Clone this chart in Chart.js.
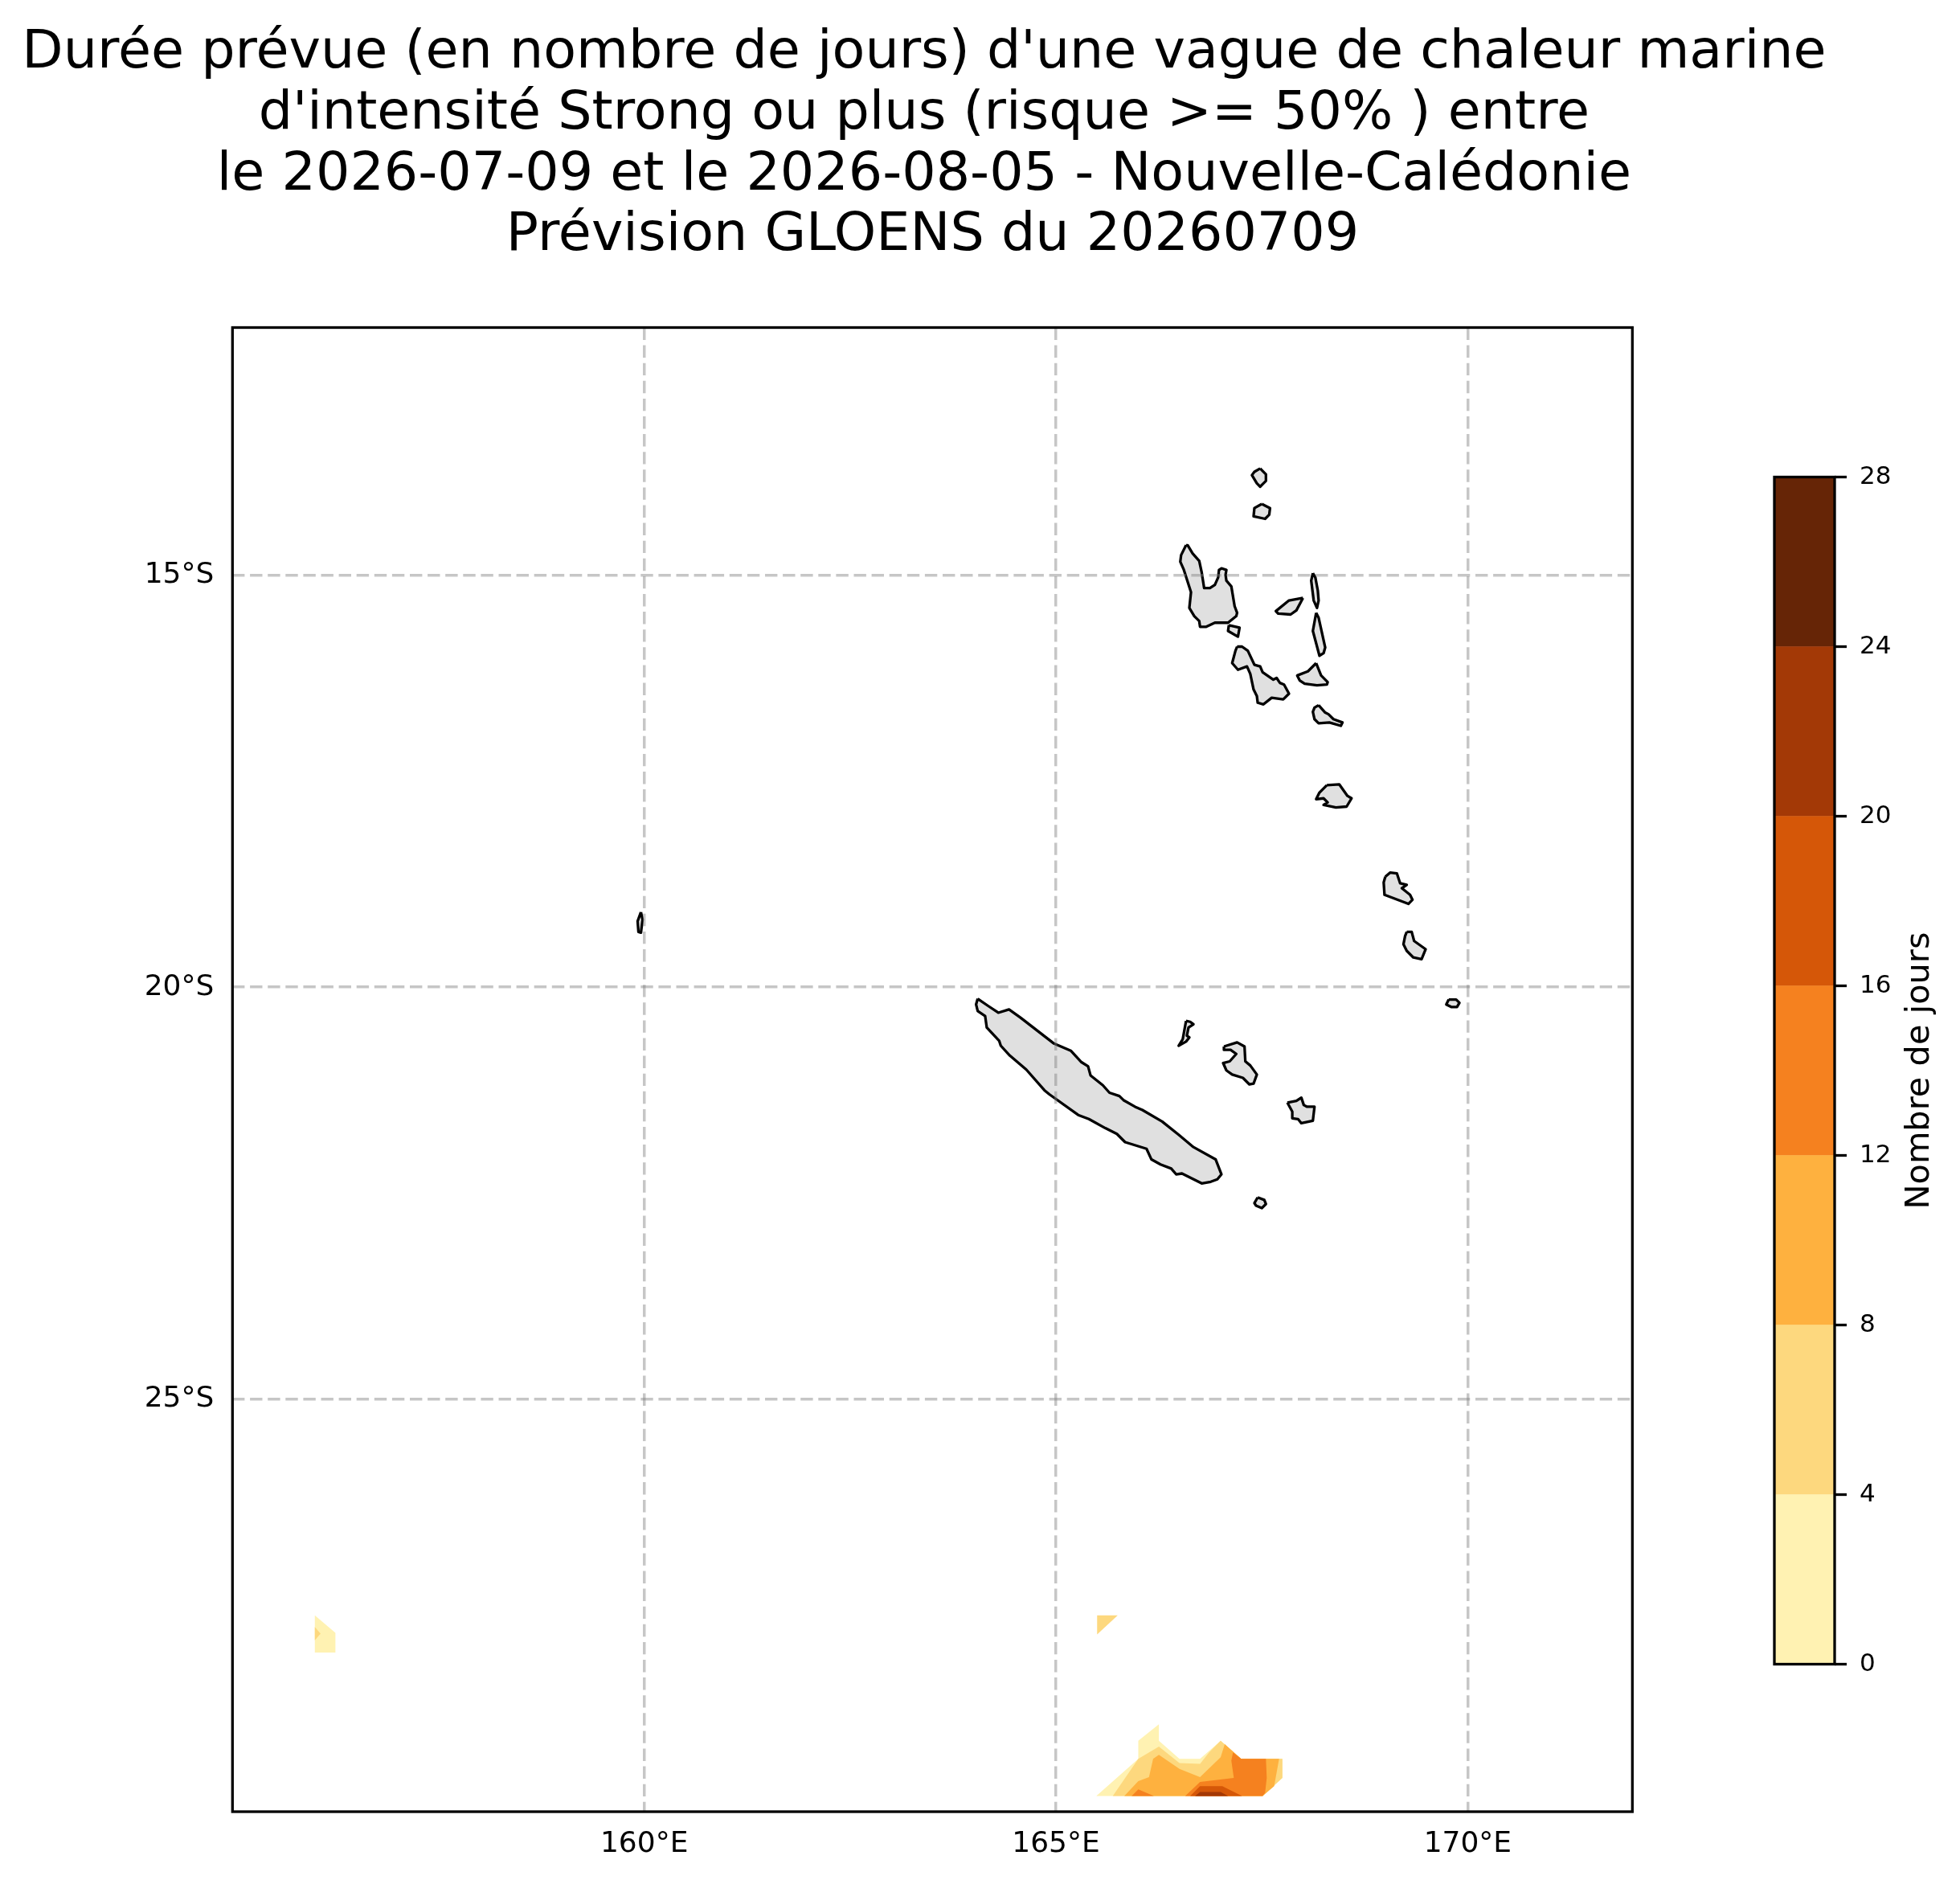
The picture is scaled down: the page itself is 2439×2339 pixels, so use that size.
<!DOCTYPE html>
<html lang="fr">
<head>
<meta charset="utf-8">
<title>Durée prévue d'une vague de chaleur marine</title>
<script src="https://cdn.jsdelivr.net/npm/chart.js@4/dist/chart.umd.min.js"></script>
<style>
  html, body { margin: 0; background: #fff; }
  #wrap { position: relative; width: 2439px; height: 2339px; overflow: hidden; }
  canvas { position: absolute; top: 0; }
  #map { left: 0; }
  #cbar { left: 2100px; }
</style>
</head>
<body>
<div id="wrap">
  <canvas id="map" width="2321" height="2339"></canvas>
  <canvas id="cbar" width="339" height="2339"></canvas>
</div>
<script>
/* titre et axes */
const TITLE_LINES = [
  "Durée prévue (en nombre de jours) d'une vague de chaleur marine ",
  "d'intensité Strong ou plus (risque >= 50% ) entre ",
  "le 2026-07-09 et le 2026-08-05 - Nouvelle-Calédonie ",
  "Prévision GLOENS du 20260709"
];
const LON_RANGE = [155, 172];
const LAT_RANGE = [-30, -12];
const LON_TICKS = [160, 165, 170];
const LAT_TICKS = [-25, -20, -15];
const CBAR_LABEL = "Nombre de jours";
const LEVELS = [0, 4, 8, 12, 16, 20, 24, 28];
const LEVEL_COLORS = ["#fff2b2", "#fdd87e", "#feb13f", "#f5811f", "#d55708", "#a33906", "#662506"];

/* isobandes (lon, lat), de la plus basse à la plus haute */
const band0a = [[156,-27.62],[156.25,-27.83],[156.25,-28.07],[156,-28.07]];
const band0b = [[165.49,-29.81],[166,-29.36],[166,-29.14],[166.25,-28.94],[166.25,-29.14],[166.5,-29.36],[166.75,-29.36],[167,-29.14],[167.25,-29.36],[167.75,-29.36],[167.75,-29.59],[167.51,-29.81]];
const band1a = [[156,-27.76],[156.07,-27.84],[156,-27.92]];
const band1b = [[165.5,-27.62],[165.75,-27.62],[165.5,-27.85]];
const band1c = [[165.69,-29.81],[166,-29.36],[166.25,-29.21],[166.5,-29.41],[166.75,-29.42],[166.86,-29.28],[167,-29.14],[167.25,-29.36],[167.75,-29.36],[167.75,-29.59],[167.51,-29.81]];
const band2 = [[165.83,-29.81],[166,-29.63],[166.13,-29.58],[166.18,-29.36],[166.25,-29.31],[166.5,-29.48],[166.75,-29.58],[167,-29.34],[167.05,-29.18],[167.25,-29.36],[167.71,-29.36],[167.65,-29.69],[167.51,-29.81]];
const band3a = [[165.92,-29.81],[166,-29.73],[166.19,-29.81]];
const band3b = [[166.57,-29.81],[166.75,-29.64],[167.16,-29.59],[167.13,-29.38],[167.15,-29.28],[167.25,-29.36],[167.55,-29.36],[167.56,-29.59],[167.54,-29.77],[167.51,-29.81]];
const band4 = [[166.63,-29.81],[166.75,-29.69],[167.02,-29.69],[167.26,-29.81]];
const band5 = [[166.69,-29.81],[166.75,-29.76],[167,-29.76],[167.09,-29.81]];

/* traits de côte (lon, lat) */
const hiu = [[167.48,-13.71],[167.55,-13.78],[167.55,-13.86],[167.52,-13.89],[167.48,-13.93],[167.44,-13.89],[167.38,-13.79],[167.41,-13.75]];
const vanuaLava = [[167.50,-14.14],[167.60,-14.19],[167.59,-14.27],[167.54,-14.32],[167.40,-14.29],[167.41,-14.19]];
const santo = [[166.58,-14.64],[166.60,-14.64],[166.66,-14.74],[166.74,-14.83],[166.77,-14.97],[166.80,-15.16],[166.87,-15.16],[166.93,-15.12],[166.97,-15.03],[166.98,-14.94],[167.01,-14.92],[167.07,-14.94],[167.06,-15.00],[167.07,-15.07],[167.13,-15.14],[167.17,-15.38],[167.20,-15.46],[167.19,-15.50],[167.09,-15.58],[166.93,-15.58],[166.82,-15.63],[166.75,-15.63],[166.74,-15.56],[166.68,-15.50],[166.62,-15.40],[166.64,-15.21],[166.55,-14.93],[166.51,-14.84],[166.52,-14.76]];
const malo = [[167.10,-15.61],[167.23,-15.64],[167.21,-15.75],[167.09,-15.68]];
const maewo = [[168.12,-14.98],[168.15,-15.03],[168.18,-15.19],[168.19,-15.31],[168.17,-15.40],[168.13,-15.31],[168.10,-15.07]];
const ambae = [[168.00,-15.28],[167.83,-15.31],[167.67,-15.44],[167.70,-15.47],[167.85,-15.48],[167.92,-15.43]];
const pentecote = [[168.16,-15.46],[168.19,-15.52],[168.27,-15.88],[168.25,-15.95],[168.20,-15.98],[168.12,-15.68]];
const malekula = [[167.20,-15.87],[167.26,-15.87],[167.33,-15.92],[167.41,-16.09],[167.48,-16.11],[167.51,-16.18],[167.64,-16.27],[167.68,-16.25],[167.72,-16.31],[167.77,-16.33],[167.83,-16.44],[167.76,-16.51],[167.62,-16.49],[167.52,-16.57],[167.45,-16.55],[167.44,-16.47],[167.40,-16.39],[167.36,-16.20],[167.32,-16.11],[167.21,-16.15],[167.14,-16.07],[167.18,-15.92]];
const ambrym = [[168.16,-16.07],[168.22,-16.22],[168.30,-16.30],[168.29,-16.33],[168.17,-16.34],[168.02,-16.32],[167.96,-16.28],[167.93,-16.22],[168.06,-16.17]];
const epi = [[168.19,-16.58],[168.27,-16.67],[168.31,-16.69],[168.37,-16.75],[168.48,-16.79],[168.46,-16.83],[168.32,-16.79],[168.19,-16.80],[168.14,-16.75],[168.12,-16.66],[168.14,-16.61]];
const efate = [[168.29,-17.55],[168.44,-17.54],[168.54,-17.68],[168.59,-17.71],[168.53,-17.81],[168.40,-17.82],[168.25,-17.79],[168.30,-17.76],[168.25,-17.71],[168.16,-17.72],[168.20,-17.64]];
const erromango = [[169.00,-18.66],[169.06,-18.61],[169.14,-18.62],[169.18,-18.74],[169.26,-18.76],[169.20,-18.80],[169.30,-18.88],[169.33,-18.94],[169.28,-18.99],[168.99,-18.88],[168.98,-18.73]];
const tanna = [[169.26,-19.33],[169.32,-19.33],[169.35,-19.44],[169.49,-19.54],[169.44,-19.66],[169.34,-19.64],[169.26,-19.56],[169.22,-19.48],[169.24,-19.38]];
const aneityum = [[169.77,-20.15],[169.86,-20.15],[169.90,-20.19],[169.87,-20.24],[169.80,-20.24],[169.74,-20.21]];
const ouvea = [[166.58,-20.41],[166.63,-20.42],[166.67,-20.45],[166.61,-20.49],[166.59,-20.59],[166.62,-20.61],[166.58,-20.66],[166.49,-20.71],[166.54,-20.63],[166.56,-20.52]];
const lifou = [[167.04,-20.72],[167.20,-20.67],[167.29,-20.72],[167.30,-20.90],[167.36,-20.95],[167.44,-21.06],[167.40,-21.17],[167.35,-21.18],[167.27,-21.10],[167.14,-21.06],[167.07,-21.01],[167.03,-20.92],[167.11,-20.90],[167.19,-20.81],[167.12,-20.76],[167.04,-20.76]];
const mare = [[167.81,-21.40],[167.92,-21.38],[167.98,-21.34],[168.01,-21.43],[168.05,-21.45],[168.14,-21.45],[168.12,-21.62],[167.98,-21.65],[167.94,-21.60],[167.87,-21.59],[167.87,-21.51]];
const pins = [[167.45,-22.55],[167.53,-22.58],[167.55,-22.63],[167.50,-22.68],[167.43,-22.65],[167.41,-22.62]];
const grandeTerre = [[164.05,-20.14],[164.18,-20.23],[164.30,-20.31],[164.43,-20.27],[164.57,-20.37],[164.97,-20.68],[165.18,-20.77],[165.31,-20.91],[165.39,-20.96],[165.42,-21.07],[165.57,-21.19],[165.65,-21.28],[165.77,-21.32],[165.82,-21.37],[165.96,-21.45],[166.05,-21.49],[166.29,-21.63],[166.49,-21.79],[166.67,-21.94],[166.94,-22.09],[167.01,-22.27],[166.96,-22.33],[166.88,-22.36],[166.77,-22.38],[166.53,-22.26],[166.46,-22.27],[166.40,-22.20],[166.27,-22.15],[166.16,-22.09],[166.10,-21.96],[165.84,-21.88],[165.74,-21.78],[165.60,-21.71],[165.40,-21.60],[165.27,-21.55],[164.92,-21.30],[164.86,-21.25],[164.64,-21.00],[164.44,-20.83],[164.33,-20.71],[164.31,-20.65],[164.16,-20.49],[164.14,-20.35],[164.05,-20.29],[164.03,-20.21]];
const chesterfield = [[159.96,-19.09],[159.98,-19.18],[159.96,-19.34],[159.93,-19.33],[159.92,-19.20]];

const bands = [
  [band0a, 0], [band0b, 0], [band1a, 1], [band1b, 1], [band1c, 1], [band2, 2],
  [band3a, 3], [band3b, 3], [band4, 4], [band5, 5]
];
const islands = [hiu, vanuaLava, santo, malo, maewo, ambae, pentecote, malekula, ambrym, epi, efate, erromango, tanna, aneityum, ouvea, lifou, mare, pins, grandeTerre, chesterfield];

const FONT = "'DejaVu Sans'";
const toPts = poly => [...poly, poly[0]].map(([x, y]) => ({ x, y }));
const bandDs = ([poly, lvl]) => ({ data: toPts(poly), showLine: true, fill: "shape", pointRadius: 0, borderWidth: 0, backgroundColor: LEVEL_COLORS[lvl] });
const landDs = poly => ({ data: toPts(poly), showLine: true, fill: "shape", pointRadius: 0, borderWidth: 3.3, borderColor: "#000", backgroundColor: "#e0e0e0", borderJoinStyle: "round" });

const frame = {
  id: "frame",
  afterDraw(c) {
    const a = c.chartArea, x = c.ctx;
    x.save(); x.strokeStyle = "#000"; x.lineWidth = 3.3;
    x.strokeRect(a.left, a.top, a.right - a.left, a.bottom - a.top);
    x.restore();
  }
};

const gridO = { color: "rgba(128,128,128,.45)", lineWidth: 3.5, drawTicks: false, z: 1 };
const borderO = { display: false, dash: [15.4, 6.7] };

const mapDs = [...bands.map(bandDs), ...islands.map(landDs)];
mapDs.forEach((d, i) => { d.order = mapDs.length - i; });

new Chart(document.getElementById("map"), {
  type: "scatter",
  data: { datasets: mapDs },
  plugins: [frame],
  options: {
    responsive: false, animation: false, devicePixelRatio: 1,
    layout: { padding: 0 },
    plugins: {
      legend: { display: false }, tooltip: { enabled: false },
      title: {
        display: true, text: TITLE_LINES, color: "#000",
        font: { family: FONT, size: 66.7, weight: "normal", lineHeight: 75.7 / 66.7 },
        padding: { top: 29, bottom: 75.7 }
      }
    },
    scales: {
      x: {
        type: "linear", min: LON_RANGE[0], max: LON_RANGE[1],
        afterBuildTicks: s => { s.ticks = LON_TICKS.map(value => ({ value })); },
        afterFit: s => { s.height = 85; },
        grid: gridO, border: borderO,
        ticks: { color: "#000", font: { family: FONT, size: 36 }, padding: 19, maxRotation: 0, autoSkip: false, callback: v => v + "°E" }
      },
      y: {
        type: "linear", min: LAT_RANGE[0], max: LAT_RANGE[1],
        afterBuildTicks: s => { s.ticks = LAT_TICKS.map(value => ({ value })); },
        afterFit: s => { s.width = 289.3; },
        grid: gridO, border: borderO,
        ticks: { color: "#000", font: { family: FONT, size: 36 }, padding: 23, autoSkip: false, callback: v => Math.abs(v) + "°S" }
      },
      // axe vide à droite : garde le titre centré sur la carte
      y2: {
        type: "linear", position: "right", display: true, min: 0, max: 1,
        afterFit: s => { s.width = 289.7; },
        grid: { display: false }, border: { display: false }, ticks: { display: false }
      }
    }
  }
});

const cbarLabel = {
  id: "cbarLabel",
  afterDraw(c) {
    const a = c.chartArea, x = c.ctx;
    x.save();
    x.translate(a.right + 117, (a.top + a.bottom) / 2);
    x.rotate(-Math.PI / 2);
    x.font = "41.5px " + FONT; x.fillStyle = "#000"; x.textAlign = "center"; x.textBaseline = "alphabetic";
    x.fillText(CBAR_LABEL, 0, 0);
    x.restore();
  }
};

new Chart(document.getElementById("cbar"), {
  type: "bar",
  data: {
    labels: [""],
    datasets: LEVEL_COLORS.map((col, i) => ({ label: LEVELS[i] + "-" + LEVELS[i + 1], data: [LEVELS[i + 1] - LEVELS[i]], backgroundColor: col, barPercentage: 1, categoryPercentage: 1 }))
  },
  plugins: [frame, cbarLabel],
  options: {
    responsive: false, animation: false, devicePixelRatio: 1,
    layout: { padding: { left: 108, right: 0, top: 593.5, bottom: 268.5 } },
    plugins: { legend: { display: false }, tooltip: { enabled: false } },
    scales: {
      x: { stacked: true, display: false },
      y: {
        stacked: true, position: "right", min: 0, max: 28,
        afterFit: s => { s.width = 156; },
        grid: { drawOnChartArea: false, drawTicks: true, tickLength: 15, tickWidth: 3.3, tickColor: "#000" },
        border: { display: false },
        ticks: { stepSize: 4, color: "#000", font: { family: FONT, size: 31 }, padding: 16 }
      }
    }
  }
});
</script>
</body>
</html>
